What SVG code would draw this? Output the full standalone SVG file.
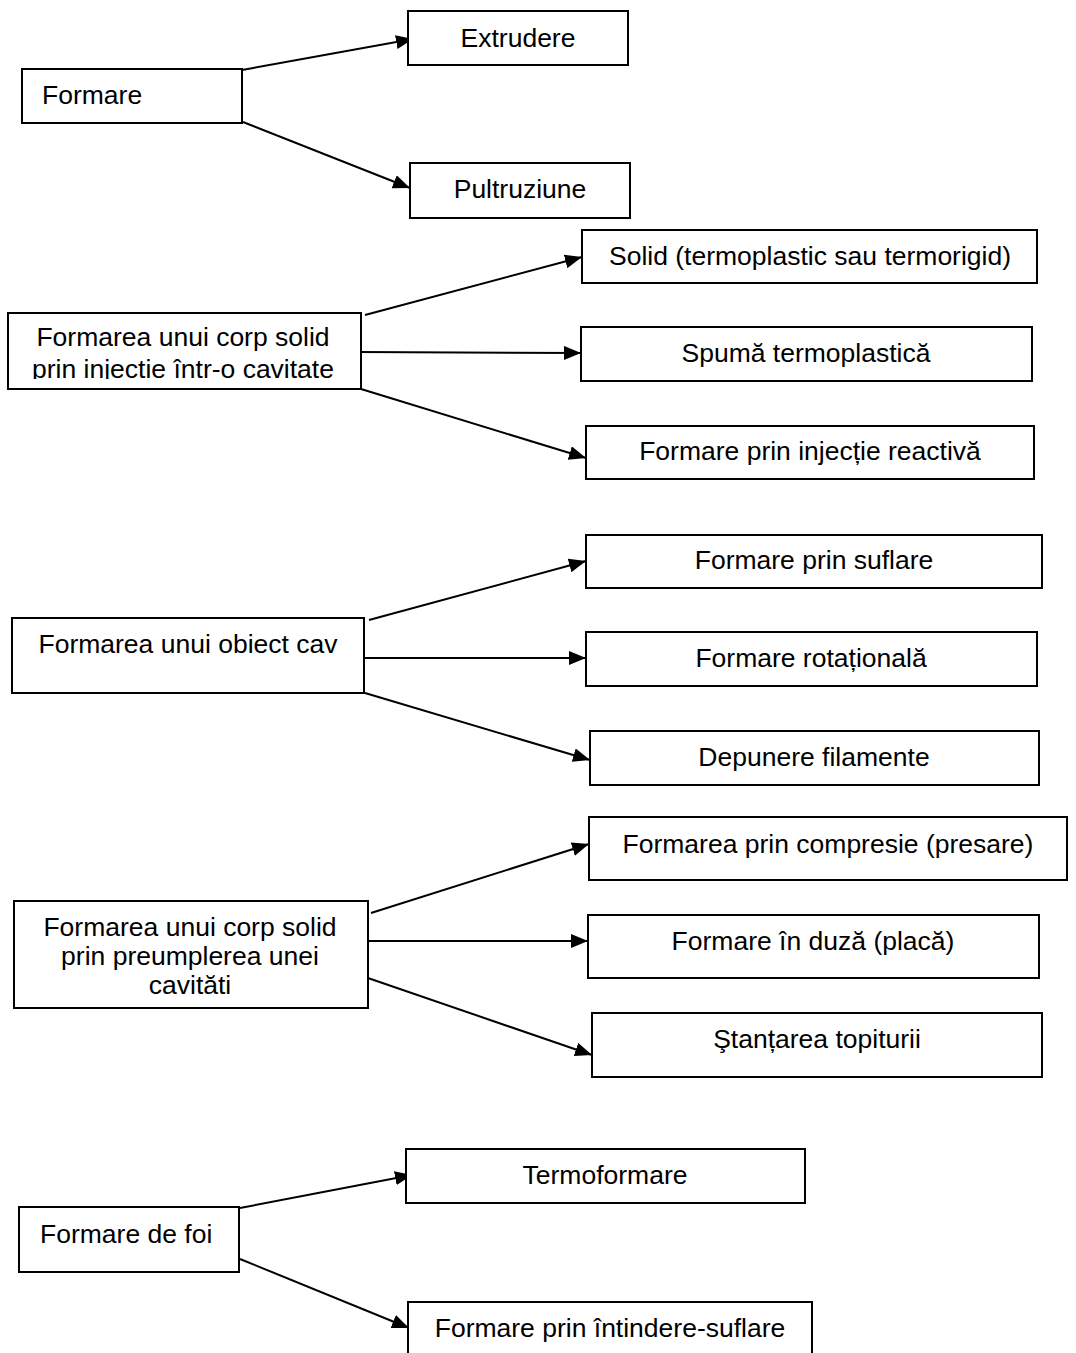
<svg xmlns="http://www.w3.org/2000/svg" width="1076" height="1353" viewBox="0 0 1076 1353">
  <style>
    .box { fill: #ffffff; stroke: #000000; stroke-width: 2; }
    .lbl { font-family: "Liberation Sans", Arial, sans-serif; font-size: 26.5px; fill: #000000; }
    .mid { text-anchor: middle; }
    .edge { stroke: #000000; stroke-width: 2; fill: none; marker-end: url(#head); }
  </style>
  <defs>
    <marker id="head" markerUnits="userSpaceOnUse" markerWidth="18" markerHeight="14" refX="17" refY="7" orient="auto">
      <path d="M0,0 L17,7 L0,14 z" fill="#000000"/>
    </marker>
    <!-- the second line of this label is cut off at the box's text area -->
    <clipPath id="injClip">
      <rect x="8" y="313" width="353" height="66"/>
    </clipPath>
  </defs>
  <rect width="1076" height="1353" fill="#ffffff"/>

  <g id="connectors">
    <line class="edge" x1="242" y1="70" x2="413" y2="39"/>
    <line class="edge" x1="243" y1="122" x2="410" y2="188"/>

    <line class="edge" x1="365" y1="315" x2="582" y2="257"/>
    <line class="edge" x1="358" y1="352" x2="581" y2="353"/>
    <line class="edge" x1="361" y1="389" x2="586" y2="458"/>

    <line class="edge" x1="369" y1="620" x2="586" y2="561"/>
    <line class="edge" x1="362" y1="658" x2="586" y2="658"/>
    <line class="edge" x1="365" y1="693" x2="590" y2="760"/>

    <line class="edge" x1="371" y1="913" x2="589" y2="844"/>
    <line class="edge" x1="365" y1="941" x2="588" y2="941"/>
    <line class="edge" x1="365" y1="977" x2="592" y2="1055"/>

    <line class="edge" x1="240" y1="1208" x2="412" y2="1175"/>
    <line class="edge" x1="240" y1="1259" x2="409" y2="1328"/>
  </g>

  <!-- Formare -->
  <g id="formare">
    <rect class="box" x="22" y="69" width="220" height="54"/>
    <text class="lbl" x="42" y="104">Formare</text>
  </g>
  <g id="extrudere">
    <rect class="box" x="408" y="11" width="220" height="54"/>
    <text class="lbl mid" x="518" y="47">Extrudere</text>
  </g>
  <g id="pultruziune">
    <rect class="box" x="410" y="163" width="220" height="55"/>
    <text class="lbl mid" x="520" y="198">Pultruziune</text>
  </g>

  <!-- Injection into a cavity -->
  <g id="injectie">
    <rect class="box" x="8" y="313" width="353" height="76"/>
    <g clip-path="url(#injClip)">
      <text class="lbl mid" x="183" y="346">Formarea unui corp solid</text>
      <text class="lbl mid" x="183" y="378">prin injectie într-o cavitate</text>
    </g>
  </g>
  <g id="solid">
    <rect class="box" x="582" y="230" width="455" height="53"/>
    <text class="lbl mid" x="810" y="265">Solid (termoplastic sau termorigid)</text>
  </g>
  <g id="spuma">
    <rect class="box" x="581" y="327" width="451" height="54"/>
    <text class="lbl mid" x="806" y="362">Spumă termoplastică</text>
  </g>
  <g id="reactiva">
    <rect class="box" x="586" y="426" width="448" height="53"/>
    <text class="lbl mid" x="810" y="460">Formare prin injecție reactivă</text>
  </g>

  <!-- Hollow objects -->
  <g id="obiect-cav">
    <rect class="box" x="12" y="618" width="352" height="75"/>
    <text class="lbl mid" x="188" y="653">Formarea unui obiect cav</text>
  </g>
  <g id="suflare">
    <rect class="box" x="586" y="535" width="456" height="53"/>
    <text class="lbl mid" x="814" y="569">Formare prin suflare</text>
  </g>
  <g id="rotationala">
    <rect class="box" x="586" y="632" width="451" height="54"/>
    <text class="lbl mid" x="811" y="667">Formare rotațională</text>
  </g>
  <g id="filamente">
    <rect class="box" x="590" y="731" width="449" height="54"/>
    <text class="lbl mid" x="814" y="766">Depunere filamente</text>
  </g>

  <!-- Pre-filled cavity -->
  <g id="preumplere">
    <rect class="box" x="14" y="901" width="354" height="107"/>
    <text class="lbl mid" x="190" y="936">Formarea unui corp solid</text>
    <text class="lbl mid" x="190" y="965">prin preumplerea unei</text>
    <text class="lbl mid" x="190" y="994">cavităti</text>
  </g>
  <g id="compresie">
    <rect class="box" x="589" y="817" width="478" height="63"/>
    <text class="lbl mid" x="828" y="853">Formarea prin compresie (presare)</text>
  </g>
  <g id="duza">
    <rect class="box" x="588" y="915" width="451" height="63"/>
    <text class="lbl mid" x="813" y="950">Formare în duză (placă)</text>
  </g>
  <g id="stantare">
    <rect class="box" x="592" y="1013" width="450" height="64"/>
    <text class="lbl mid" x="817" y="1048">Ştanțarea topiturii</text>
  </g>

  <!-- Sheets -->
  <g id="foi">
    <rect class="box" x="19" y="1207" width="220" height="65"/>
    <text class="lbl" x="40" y="1243">Formare de foi</text>
  </g>
  <g id="termoformare">
    <rect class="box" x="406" y="1149" width="399" height="54"/>
    <text class="lbl mid" x="605" y="1184">Termoformare</text>
  </g>
  <g id="intindere">
    <rect class="box" x="408" y="1302" width="404" height="60"/>
    <text class="lbl mid" x="610" y="1337">Formare prin întindere-suflare</text>
  </g>
</svg>
